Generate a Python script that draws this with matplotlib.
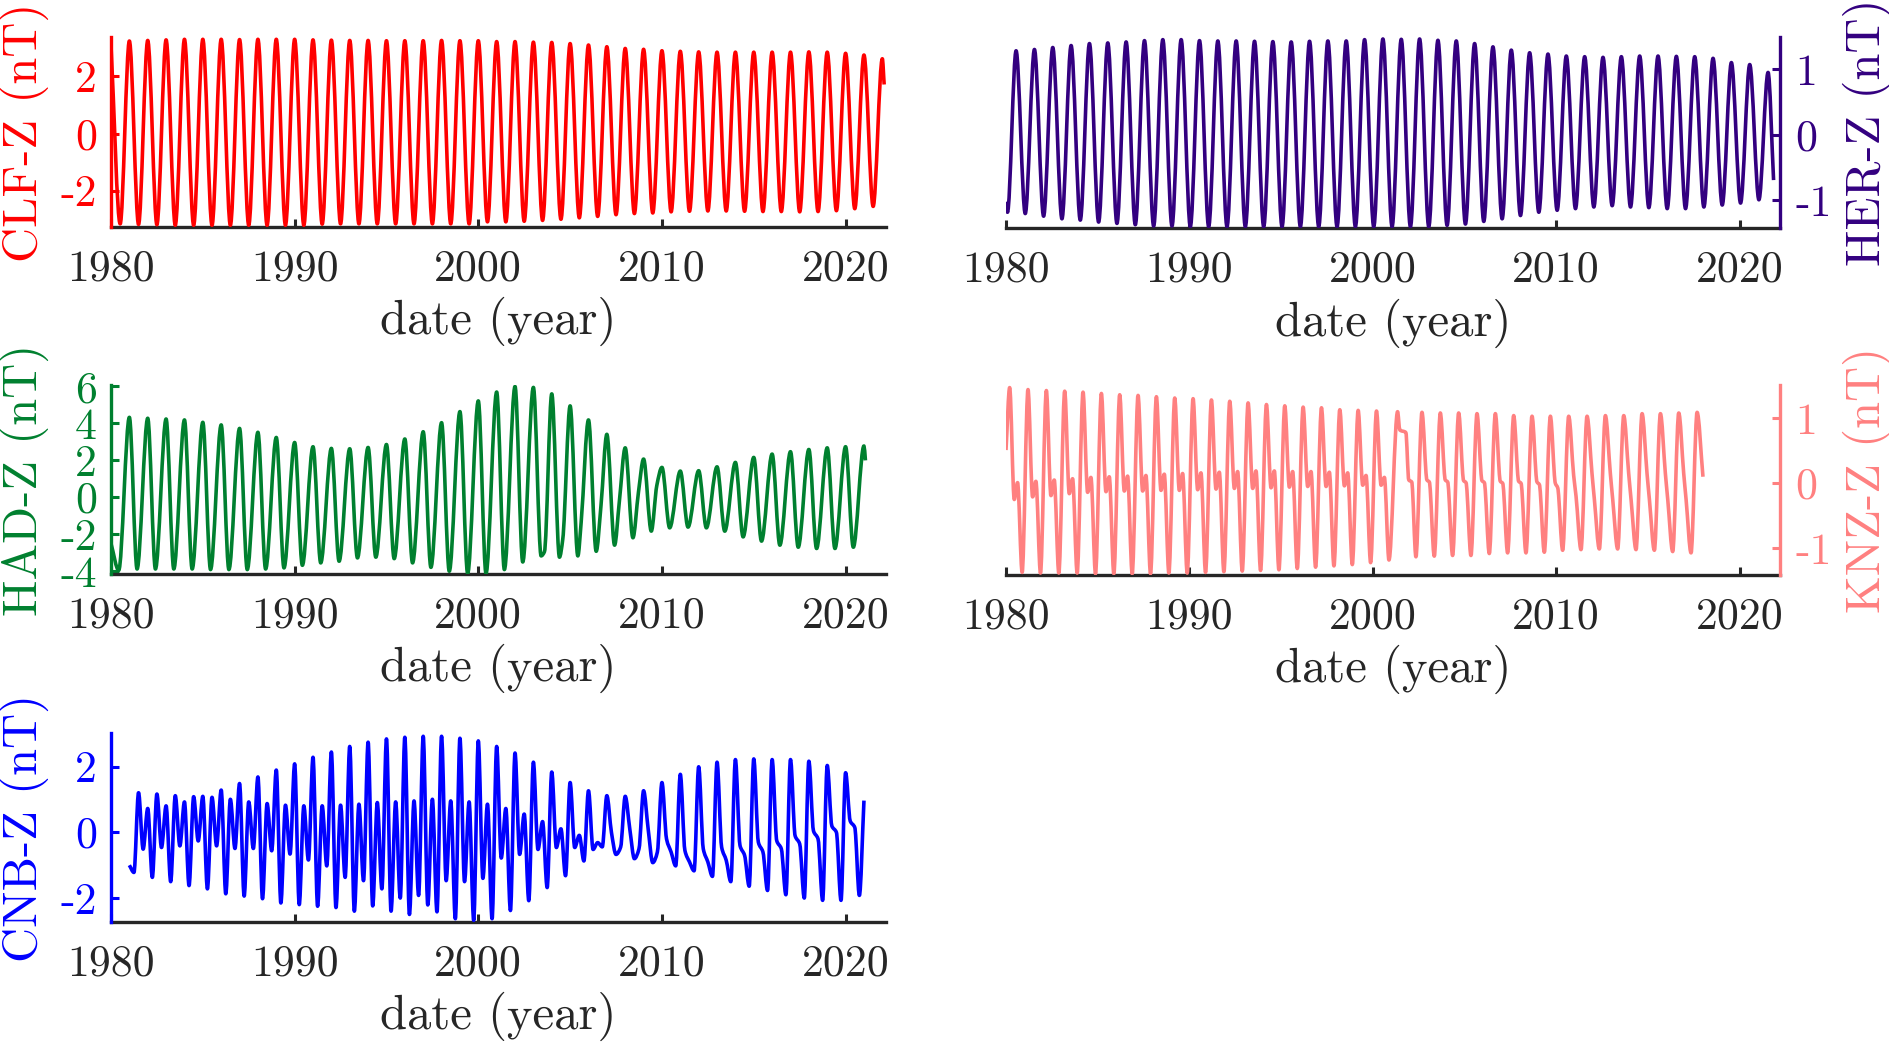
import numpy as np
import matplotlib.pyplot as plt
from matplotlib.path import Path
from matplotlib.patches import PathPatch

plt.rcParams['font.family'] = 'cmr10'
plt.rcParams['axes.unicode_minus'] = False
plt.rcParams['mathtext.fontset'] = 'cm'

year_ticks = [1980, 1990, 2000, 2010, 2020]

# ---------------- CLF-Z : maxima near 1 Jan, minima mid-year
clf_peak = [3.10, 3.24, 3.26, 3.28, 3.30, 3.30, 3.30, 3.29, 3.30, 3.30,
            3.30, 3.28, 3.27, 3.26, 3.26, 3.25, 3.25, 3.25, 3.26, 3.25,
            3.25, 3.22, 3.22, 3.20, 3.19, 3.15, 3.10, 3.04, 2.98, 2.95,
            2.90, 2.88, 2.86, 2.85, 2.85, 2.85, 2.85, 2.85, 2.86, 2.85,
            2.81, 2.75, 2.62]                      # 1980 ... 2022
clf_trough = [-3.15, -3.17, -3.18, -3.20, -3.20, -3.20, -3.20, -3.20, -3.20, -3.20,
              -3.20, -3.16, -3.15, -3.15, -3.15, -3.15, -3.15, -3.15, -3.15, -3.15,
              -3.08, -3.08, -3.06, -3.03, -2.99, -2.94, -2.89, -2.83, -2.79, -2.77,
              -2.73, -2.71, -2.70, -2.70, -2.71, -2.72, -2.72, -2.73, -2.72, -2.69,
              -2.62, -2.54]                        # 1980.5 ... 2021.5
clf_end = (2022.1, 1.72)

# ---------------- HER-Z : maxima mid-year, minima near 1 Jan
her_peak = [1.28, 1.30, 1.33, 1.36, 1.39, 1.40, 1.415, 1.435, 1.45, 1.45,
            1.435, 1.43, 1.43, 1.425, 1.42, 1.415, 1.425, 1.43, 1.43, 1.45,
            1.46, 1.455, 1.46, 1.44, 1.43, 1.39, 1.34, 1.29, 1.25, 1.23,
            1.20, 1.19, 1.18, 1.19, 1.20, 1.20, 1.195, 1.19, 1.165, 1.10,
            1.07, 0.95]                            # 1980.55 ... 2021.55
her_trough = [-1.20, -1.24, -1.28, -1.30, -1.33, -1.35, -1.37, -1.39, -1.39, -1.40,
              -1.40, -1.40, -1.40, -1.40, -1.40, -1.40, -1.40, -1.40, -1.40, -1.40,
              -1.40, -1.40, -1.40, -1.38, -1.36, -1.32, -1.28, -1.23, -1.18, -1.15,
              -1.125, -1.10, -1.08, -1.10, -1.11, -1.125, -1.125, -1.10, -1.07, -1.04,
              -0.99]                               # 1981.05 ... 2021.05
her_extra_t = [1980.0, 1980.08, 2021.85]
her_extra_v = [-1.02, -1.18, -0.69]

# ---------------- HAD-Z
had_peak = [4.33, 4.28, 4.24, 4.19, 4.06, 3.92, 3.73, 3.52, 3.24, 2.97,
            2.74, 2.65, 2.63, 2.70, 2.86, 3.16, 3.55, 4.04, 4.64, 5.22,
            5.70, 6.00, 5.95, 5.60, 4.95, 4.19, 3.41, 2.68, 2.07, 1.62,
            1.42, 1.44, 1.65, 1.89, 2.16, 2.34, 2.47, 2.59, 2.68, 2.74,
            2.78]                                  # 1981 ... 2021
had_trough = [-3.95, -3.88, -3.88, -3.88, -3.88, -3.91, -3.91, -3.91, -3.88, -3.82,
              -3.68, -3.55, -3.46, -3.28, -3.24, -3.32, -3.55, -3.79, -4.00, -4.12,
              -4.12, -3.91, -3.50, -3.17, -3.24, -3.17, -2.92, -2.59, -2.19, -1.83,
              -1.65, -1.61, -1.65, -1.83, -2.14, -2.37, -2.59, -2.70, -2.77, -2.77,
              -2.70]                               # 1980.42 ... 2020.42
had_extra_t = [1980.0, 2003.6, 2004.6, 2005.6, 2006.68, 2007.68, 2008.72, 2009.72, 2021.08]
had_extra_v = [-2.5, -2.95, -2.26, -1.36, -0.45, -0.23, 0.27, 0.64, 2.0]

# ---------------- KNZ-Z (ends 2018)
knz_start = (1980.0, 0.51)
knz_p = [1.47, 1.44, 1.425, 1.415, 1.40, 1.38, 1.36, 1.35, 1.33, 1.31,
         1.30, 1.28, 1.26, 1.235, 1.21, 1.19, 1.17, 1.16, 1.13, 1.12, 1.11]
knz_d = [-0.25, -0.21, -0.19, -0.16, -0.14, -0.13, -0.12, -0.12, -0.11, -0.11,
         -0.10, -0.09, -0.08, -0.08, -0.07, -0.06, -0.05, -0.05, -0.04, -0.03, -0.03]
knz_s = [0.01, 0.03, 0.05, 0.07, 0.09, 0.10, 0.11, 0.12, 0.14, 0.15,
         0.16, 0.17, 0.18, 0.19, 0.19, 0.18, 0.18, 0.17, 0.16, 0.12, 0.09]
knz_t = [-1.37, -1.38, -1.38, -1.38, -1.39, -1.39, -1.39, -1.39, -1.38, -1.38,
         -1.37, -1.36, -1.35, -1.34, -1.33, -1.31, -1.29, -1.27, -1.25, -1.22, -1.18]
knz_glitch_t = [2001.35, 2001.47, 2001.80, 2001.96, 2002.12, 2002.35]
knz_glitch_v = [1.10, 0.82, 0.78, 0.05, 0.02, -1.13]
knz2_p = [1.09, 1.08, 1.08, 1.07, 1.07, 1.04, 1.03, 1.03, 1.03, 1.03, 1.04, 1.04, 1.07, 1.07, 1.08]
knz2_k1 = [0.05, 0.05, 0.04, 0.04, 0.03, 0.03, 0.02, 0.00, 0.12, 0.15, 0.15, 0.15, 0.15, 0.15, 0.15]
knz2_k2 = [0.02, 0.02, 0.01, 0.01, 0.00, 0.00, -0.02, -0.07, -0.20, -0.25, -0.25, -0.25, -0.25, -0.25, -0.25]
knz2_t = [-1.12, -1.11, -1.11, -1.08, -1.07, -1.07, -1.06, -1.03, -1.02, -1.01, -1.01, -1.02, -1.03, -1.05, -1.07]
knz_end_t = [2017.68, 2018.0]
knz_end_v = [1.09, 0.10]

# ---------------- CNB-Z : quarterly extrema, 1981 ... 2021
cnb_start = -1.0
cnb_q1 = [-1.22, -1.37, -1.50, -1.62, -1.72, -1.87, -1.94, -2.02, -2.15, -2.20,
          -2.25, -2.29, -2.40, -2.24, -2.40, -2.50, -2.21, -1.47, -1.50, -1.40,
          -0.78, -0.67, -0.52, -0.46, -0.46, -0.52, 0.00, 0.10, 0.10, -0.20,
          -0.55, -0.50, -0.45, -0.40, -0.30, -0.25, -0.10, 0.05, 0.20, 0.35]
cnb_q2 = [1.21, 1.17, 1.12, 1.09, 1.07, 1.01, 0.93, 0.88, 0.83, 0.81,
          0.81, 0.83, 0.86, 0.91, 0.93, 0.96, 1.01, 0.96, 0.93, 0.86,
          0.73, 0.56, 0.33, 0.11, -0.09, -0.31, -0.67, -0.80, -0.92, -0.60,
          -0.90, -0.90, -0.85, -0.70, -0.60, -0.50, -0.35, -0.20, 0.00, 0.15]
cnb_q3 = [-0.51, -0.46, -0.41, -0.26, -0.41, -0.49, -0.49, -0.56, -0.66, -0.84,
          -1.02, -1.37, -1.47, -1.72, -2.00, -1.92, -2.42, -2.63, -2.68, -2.63,
          -2.38, -2.08, -1.68, -1.32, -0.87, -0.44, -0.45, -0.50, -0.60, -1.02,
          -1.17, -1.34, -1.50, -1.64, -1.77, -1.90, -2.00, -2.07, -2.07, -1.92]
cnb_q4 = [0.73, 0.81, 0.93, 1.10, 1.29, 1.49, 1.69, 1.90, 2.09, 2.29,
          2.45, 2.62, 2.75, 2.85, 2.90, 2.93, 2.93, 2.87, 2.79, 2.62,
          2.42, 2.14, 1.84, 1.52, 1.27, 1.12, 1.10, 1.27, 1.52, 1.77,
          2.00, 2.14, 2.22, 2.24, 2.22, 2.22, 2.17, 2.04, 1.82, 0.97]


def merge(ts, vs):
    t = np.concatenate([np.asarray(a, float) for a in ts])
    v = np.concatenate([np.asarray(a, float) for a in vs])
    o = np.argsort(t, kind='stable')
    return t[o], v[o]


clf_t, clf_v = merge([np.arange(1980, 2023), np.arange(1980, 2022) + 0.5, [clf_end[0]]],
                     [clf_peak, clf_trough, [clf_end[1]]])
her_t, her_v = merge([np.arange(1980, 2022) + 0.55, np.arange(1981, 2022) + 0.05, her_extra_t],
                     [her_peak, her_trough, her_extra_v])
had_t, had_v = merge([np.arange(1981, 2022), np.arange(1980, 2021) + 0.42, had_extra_t],
                     [had_peak, had_trough, had_extra_v])

yrs1 = np.arange(1980, 2001)
yrs2 = np.arange(2002, 2017)
knz_t_all, knz_v_all = merge(
    [[knz_start[0]], yrs1 + 0.2, yrs1 + 0.45, yrs1 + 0.63, yrs1 + 0.88, knz_glitch_t,
     yrs2 + 0.68, yrs2 + 0.95, yrs2 + 1.08, yrs2 + 1.35, knz_end_t],
    [[knz_start[1]], knz_p, knz_d, knz_s, knz_t, knz_glitch_v,
     knz2_p, knz2_k1, knz2_k2, knz2_t, knz_end_v])

yrs3 = np.arange(1981, 2021)
cnb_t, cnb_v = merge([[1981.0], yrs3 + 0.25, yrs3 + 0.5, yrs3 + 0.75, yrs3 + 1.0],
                     [[cnb_start], cnb_q1, cnb_q2, cnb_q3, cnb_q4])


def smooth_path(t, v):
    # monotone (Fritsch-Carlson) tangents, drawn as cubic Bezier segments
    h = np.diff(t)
    d = np.diff(v) / h
    m = np.zeros_like(v)
    m[0], m[-1] = d[0], d[-1]
    for i in range(1, len(v) - 1):
        if d[i - 1] * d[i] > 0:
            w1 = 2 * h[i] + h[i - 1]
            w2 = h[i] + 2 * h[i - 1]
            m[i] = (w1 + w2) / (w1 / d[i - 1] + w2 / d[i])
    verts = [(t[0], v[0])]
    codes = [Path.MOVETO]
    for i in range(len(v) - 1):
        verts += [(t[i] + h[i] / 3, v[i] + m[i] * h[i] / 3),
                  (t[i + 1] - h[i] / 3, v[i + 1] - m[i + 1] * h[i] / 3),
                  (t[i + 1], v[i + 1])]
        codes += [Path.CURVE4] * 3
    return Path(verts, codes)


W, H = 1890, 1043
fig = plt.figure(figsize=(W / 100, H / 100), dpi=100)
axis_gray = '#262626'


def box(l, r, t, b):
    return [l / W, 1 - b / H, (r - l) / W, (b - t) / H]


def panel(rect, t, v, color, label, ylim, yticks, side):
    ax = fig.add_axes(rect)
    ax.add_patch(PathPatch(smooth_path(t, v), fill=False, edgecolor=color, lw=2.6,
                           zorder=3, joinstyle='round', capstyle='butt'))
    ax.set_xlim(1980, 2022.2)
    ax.set_ylim(*ylim)
    ax.set_xticks(year_ticks)
    ax.set_xticklabels([str(y) for y in year_ticks])
    ax.set_yticks(yticks)
    ax.set_yticklabels([str(y) for y in yticks])
    other = 'left' if side == 'right' else 'right'
    ax.spines['top'].set_visible(False)
    ax.spines[other].set_visible(False)
    ax.spines['bottom'].set_color(axis_gray)
    ax.spines['bottom'].set_linewidth(2.4)
    ax.spines[side].set_color(color)
    ax.spines[side].set_linewidth(2.4)
    ax.spines[side].set_zorder(4)
    if side == 'right':
        ax.yaxis.tick_right()
        ax.yaxis.set_label_position('right')
    ax.tick_params(axis='x', direction='in', length=6, width=2.2, colors=axis_gray,
                   labelsize=31.5, pad=16)
    ax.tick_params(axis='y', direction='in', length=6, width=2.2, colors=color,
                   labelsize=31.5, pad=10 if side == 'left' else 11)
    ax.set_xlabel('date (year)', fontsize=35, color=axis_gray)
    ax.xaxis.set_label_coords(0.5, -0.368)
    ax.set_ylabel(label, fontsize=35, color=color)
    ax.yaxis.set_label_coords(-0.080 if side == 'left' else 1.081, 0.5)
    return ax


panel(box(111, 886, 37, 227), clf_t, clf_v, '#FF0000', 'CLF-Z (nT)',
      (-3.26, 3.38), [-2, 0, 2], 'left')
panel(box(1006, 1780, 37, 228), her_t, her_v, '#330080', 'HER-Z (nT)',
      (-1.42, 1.49), [-1, 0, 1], 'right')
panel(box(111, 886, 385, 574), had_t, had_v, '#00802F', 'HAD-Z (nT)',
      (-4.15, 6.08), [-4, -2, 0, 2, 4, 6], 'left')
panel(box(1006, 1780, 385, 575), knz_t_all, knz_v_all, '#FF8080', 'KNZ-Z (nT)',
      (-1.41, 1.51), [-1, 0, 1], 'right')
panel(box(111, 886, 733, 922), cnb_t, cnb_v, '#0000FF', 'CNB-Z (nT)',
      (-2.73, 3.03), [-2, 0, 2], 'left')

fig.savefig('out.png', dpi=100)
